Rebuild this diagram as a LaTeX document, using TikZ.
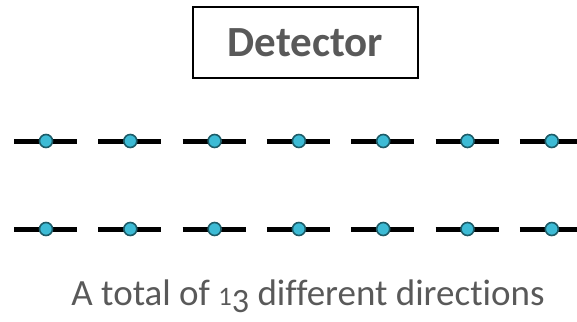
\documentclass[tikz,border=0pt]{standalone}
\usepackage{fontspec}
\setmainfont{Carlito}[Ligatures=NoCommon]
\definecolor{txtgray}{HTML}{595959}
\definecolor{dotfill}{HTML}{3DBBD5}
\definecolor{dotedge}{HTML}{1D5C68}
\newcommand{\osone}{\scalebox{0.72}{1}}
\newcommand{\osthree}{\raisebox{-0.2em}{\scalebox{0.92}{3}}}
\tikzset{
  detbox/.style={draw=black, line width=1.2pt, minimum width=225pt, minimum height=71pt, inner sep=0pt,
    font=\fontsize{43}{48}\selectfont\bfseries, text=txtgray},
  seg/.style={line width=5pt, black},
  dot/.style={circle, draw=dotedge, fill=dotfill, line width=1.6pt, minimum size=13pt, inner sep=0pt},
  caption/.style={font=\fontsize{37}{42}\selectfont, text=txtgray, inner sep=0pt}
}
\begin{document}
\begin{tikzpicture}[x=1pt,y=-1pt]
\useasboundingbox (0,0) rectangle (577,321);
\node[detbox] (det) at (305.5,42.5) {Detector};
\foreach \r/\yy in {1/141,2/229}{
  \foreach \i in {0,...,6}{
    \pgfmathsetmacro{\cx}{46+\i*84.3}
    \coordinate (l\r\i) at (\cx-32,\yy);
    \coordinate (r\r\i) at (\cx+31,\yy);
    \draw[seg] (l\r\i) -- (r\r\i);
    \node[dot] (d\r\i) at (\cx,\yy) {};
  }
}
\node[caption, anchor=base] (cap) at (308,305) {A total of \osone\osthree{} different directions};
\end{tikzpicture}
\end{document}
